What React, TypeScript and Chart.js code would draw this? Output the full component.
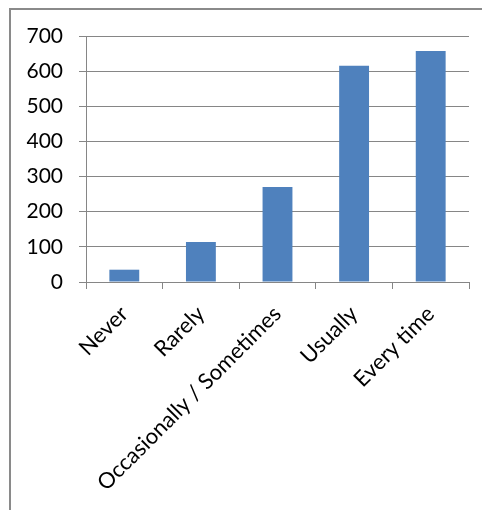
import React, { useEffect, useRef } from "react";
import { Chart, registerables } from "chart.js";

Chart.register(...registerables);

const categories = ["Never", "Rarely", "Occasionally / Sometimes", "Usually", "Every time"];
const values = [35, 114, 270, 615, 657];
const yTicks = [0, 100, 200, 300, 400, 500, 600, 700];

export default function App() {
  const ref = useRef<HTMLCanvasElement | null>(null);

  useEffect(() => {
    if (!ref.current) return;
    const chart = new Chart(ref.current, {
      type: "bar",
      data: {
        labels: categories,
        datasets: [
          {
            data: values,
            backgroundColor: "#4F81BD",
            borderWidth: 0,
            barPercentage: 0.39,
            categoryPercentage: 1,
          },
        ],
      },
      options: {
        animation: false,
        responsive: false,
        maintainAspectRatio: false,
        layout: { padding: { top: 36, right: 13, left: 0, bottom: 0 } },
        plugins: { legend: { display: false }, tooltip: { enabled: false } },
        scales: {
          x: {
            offset: true,
            grid: {
              offset: true,
              drawOnChartArea: false,
              drawTicks: true,
              tickLength: 7,
              color: "#868686",
            },
            border: { color: "#868686", width: 1 },
            ticks: {
              minRotation: 45,
              maxRotation: 45,
              autoSkip: false,
              color: "#000",
              padding: 12,
              font: { family: "Lato", size: 22 },
            },
            afterFit: (s: any) => {
              s.height = 228;
            },
          },
          y: {
            min: 0,
            max: 700,
            afterBuildTicks: (s: any) => {
              s.ticks = yTicks.map((v) => ({ value: v }));
            },
            grid: {
              color: "#868686",
              tickLength: 7,
              drawTicks: true,
            },
            border: { color: "#868686", width: 1 },
            ticks: {
              color: "#000",
              padding: 16,
              font: { family: "Lato", size: 21 },
            },
            afterFit: (s: any) => {
              s.width = 86;
            },
          },
        },
      },
    });
    return () => chart.destroy();
  }, []);

  return (
    <div style={{ position: "absolute", left: 0, top: 0, width: 482, height: 510, background: "#fff", overflow: "hidden" }}>
      <div
        style={{
          position: "absolute",
          left: 9,
          top: 8,
          width: 520,
          height: 560,
          borderTop: "2px solid #8a8a8a",
          borderLeft: "2px solid #8a8a8a",
          boxSizing: "border-box",
        }}
      />
      <canvas ref={ref} width={482} height={510} style={{ position: "absolute", left: 0, top: 0, width: 482, height: 510 }} />
    </div>
  );
}
